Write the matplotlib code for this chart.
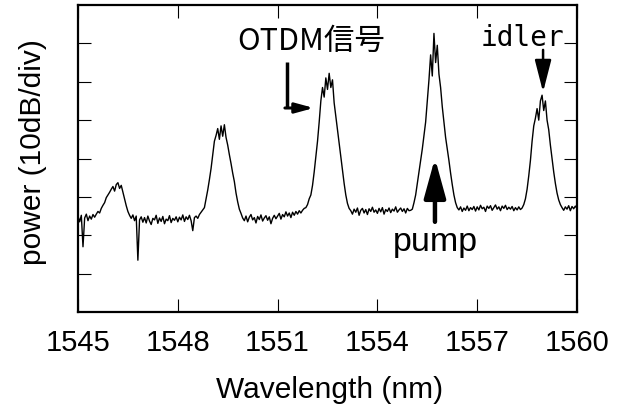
import matplotlib
matplotlib.use('Agg')
import matplotlib.pyplot as plt
import numpy as np

# OSA trace, 0.05 nm steps from 1545 to 1560 nm
wl_start, wl_stop = 1545.0, 1560.0
power = [
	# 1545.00 - 1545.95
	-55.0, -56.5, -54.8, -63.0, -55.5, -54.5, -56.2, -55.0, -55.8, -54.6,
	-55.3, -54.5, -53.8, -54.2, -53.0, -52.2, -51.5, -50.2, -49.5, -48.8,
	# 1546
	-48.0, -47.3, -48.5, -46.8, -46.3, -47.8, -47.0, -48.8, -50.5, -52.3,
	-53.8, -54.8, -55.6, -54.7, -56.2, -55.0, -66.5, -56.0, -55.2, -56.6,
	# 1547
	-55.4, -56.8, -55.0, -56.3, -57.2, -55.6, -56.0, -54.8, -56.9, -55.5,
	-56.4, -55.1, -57.0, -55.8, -56.2, -54.9, -56.7, -55.6, -56.1, -55.2,
	# 1548
	-56.5, -55.3, -56.0, -54.7, -56.4, -55.2, -55.9, -54.8, -56.2, -58.8,
	-55.4, -55.0, -55.6, -54.6, -54.0, -53.4, -52.8, -50.5, -48.2, -45.5,
	# 1549
	-42.6, -39.0, -35.5, -34.0, -32.2, -35.0, -31.5, -34.2, -31.2, -34.5,
	-36.5, -39.0, -41.3, -43.8, -46.0, -49.0, -51.3, -53.2, -54.3, -55.5,
	# 1550
	-56.2, -55.0, -56.5, -55.3, -54.6, -56.0, -55.4, -56.8, -55.1, -55.9,
	-54.7, -56.3, -55.5, -54.9, -56.1, -55.2, -57.0, -55.6, -54.8, -55.7,
	# 1551
	-55.0, -54.3, -55.8, -54.6, -55.2, -53.9, -55.0, -54.2, -55.4, -54.0,
	-54.8, -53.8, -54.5, -53.6, -54.2, -53.5, -53.0, -52.8, -52.0, -50.5,
	# 1552
	-49.5, -47.0, -43.5, -39.5, -35.5, -30.5, -25.0, -21.5, -24.0, -19.0,
	-22.0, -17.8, -21.5, -19.5, -25.5, -29.0, -32.5, -36.0, -39.5, -43.0,
	# 1553
	-46.5, -49.5, -51.7, -53.0, -53.6, -54.5, -53.2, -54.0, -52.9, -54.8,
	-53.5, -53.0, -54.2, -53.3, -54.6, -53.1, -53.8, -52.7, -54.0, -53.4,
	# 1554
	-54.3, -53.0, -53.9, -52.8, -54.5, -53.3, -53.8, -52.9, -54.1, -53.2,
	-53.7, -52.6, -54.0, -53.4, -52.9, -53.8, -53.1, -54.2, -53.0, -53.6,
	# 1555
	-53.5, -53.2, -51.5, -49.5, -46.5, -43.5, -40.5, -37.5, -34.0, -30.5,
	-25.0, -19.5, -13.0, -18.5, -7.4, -15.0, -10.5, -18.0, -21.5, -26.5,
	# 1556
	-30.5, -34.5, -37.5, -40.5, -43.8, -46.8, -49.5, -51.5, -52.8, -53.4,
	-52.6, -53.8, -52.9, -53.5, -52.4, -53.6, -52.8, -53.3, -52.5, -53.7,
	# 1557
	-52.6, -53.4, -52.2, -53.1, -52.7, -53.8, -52.4, -53.0, -52.3, -53.5,
	-52.8, -52.1, -53.2, -52.6, -53.6, -52.4, -53.0, -52.2, -53.3, -52.7,
	# 1558
	-53.2, -52.5, -53.6, -52.8, -53.4, -52.6, -53.3, -52.9, -52.0, -50.5,
	-48.0, -44.5, -40.5, -35.5, -31.5, -29.5, -27.0, -30.0, -25.0, -23.5,
	# 1559
	-27.5, -25.0, -30.0, -32.5, -36.5, -40.0, -43.5, -46.5, -49.0, -50.8,
	-52.0, -52.8, -53.5, -52.6, -53.2, -52.3, -53.6, -52.5, -53.1, -52.4,
	# 1560
	-53.0,
]
wavelength = np.linspace(wl_start, wl_stop, len(power))

xticks = [1545, 1548, 1551, 1554, 1557, 1560]
yticks = [-70, -60, -50, -40, -30, -20, -10]

plt.rcParams['font.family'] = ['Liberation Sans', 'DejaVu Sans']

fig = plt.figure(figsize=(6.17, 4.12), dpi=100)
ax = fig.add_axes([78/617, 1-312/412, 499/617, 307/412])

ax.plot(wavelength, power, color='black', lw=1.0)

ax.set_xlim(1545, 1560)
ax.set_ylim(-80, 0)
ax.set_xticks(xticks)
ax.set_yticks(yticks)
ax.set_yticklabels([])
ax.tick_params(direction='in', length=9.5, width=0.8, top=True, right=True,
	labelsize=21, pad=12)
for sp in ax.spines.values():
	sp.set_linewidth(1.6)

ax.set_xlabel('Wavelength (nm)', fontsize=21.5)
ax.xaxis.set_label_coords(0.505, -0.21)
ax.set_ylabel('power (10dB/div)', fontsize=21.5)
ax.yaxis.set_label_coords(-0.062, 0.52)

# annotations
ax.text(1552.02, -9.6, 'OTDM信号', fontsize=22, ha='center', va='center',
	family=['Noto Sans CJK JP', 'DejaVu Sans'])
ax.plot([1551.28, 1551.28], [-14.85, -26.84], color='black', lw=2.5, solid_capstyle='butt')
ax.annotate('', xy=(1552.09, -26.84), xytext=(1551.22, -26.84),
	arrowprops=dict(arrowstyle='-|>,head_length=0.55,head_width=0.15', lw=2.2,
		color='black', mutation_scale=20, shrinkA=0, shrinkB=0))

ax.text(1558.35, -8.6, 'idler', fontsize=20, ha='center', va='center',
	family=['DejaVu Sans Mono'])
ax.annotate('', xy=(1558.98, -22.7), xytext=(1558.98, -11.7),
	arrowprops=dict(arrowstyle='-|>,head_length=0.78,head_width=0.2', lw=1.8,
		color='black', mutation_scale=25, shrinkA=0, shrinkB=0))

ax.text(1555.73, -62.0, 'pump', fontsize=24.5, ha='center', va='center')
ax.annotate('', xy=(1555.73, -39.9), xytext=(1555.73, -56.5),
	arrowprops=dict(arrowstyle='-|>,head_length=0.8,head_width=0.22', lw=3.2,
		color='black', mutation_scale=30, shrinkA=0, shrinkB=0))

plt.savefig('out.png', dpi=100)
